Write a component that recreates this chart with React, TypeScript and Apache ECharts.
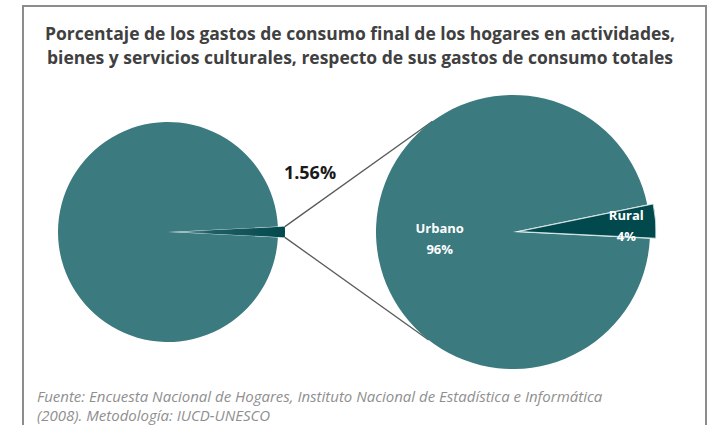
import React, { useEffect, useRef } from "react";
import * as echarts from "echarts";

const titleLines = [
  "Porcentaje de los gastos de consumo final de los hogares en actividades,",
  "bienes y servicios culturales, respecto de sus gastos de consumo totales",
];
const sourceLines = [
  "Fuente: Encuesta Nacional de Hogares, Instituto Nacional de Estadística e Informática",
  "(2008). Metodología: IUCD-UNESCO",
];
const leftNames = ["Cultural", "Otros"];
const leftValues = [1.56, 98.44];
const rightNames = ["Rural", "Urbano"];
const rightValues = [4, 96];

const TEAL = "#3b7b80";
const DARK = "#02494e";

export default function App() {
  const ref = useRef<HTMLDivElement>(null);
  useEffect(() => {
    if (!ref.current) return;
    const chart = echarts.init(ref.current, undefined, { renderer: "svg" });
    const L = { x: 168, y: 232, r: 110, off: 7 };
    const R = { x: 513, y: 232, r: 137 };
    const leftHalf = (leftValues[0] / (leftValues[0] + leftValues[1])) * 180;
    const rightStart = 11.6;
    const rad = (d: number) => (d * Math.PI) / 180;
    const lc1 = [L.x + L.off + L.r * Math.cos(rad(leftHalf)), L.y - L.r * Math.sin(rad(leftHalf))];
    const lc2 = [L.x + L.off + L.r * Math.cos(rad(leftHalf)), L.y + L.r * Math.sin(rad(leftHalf))];
    const rc1 = [R.x + R.r * Math.cos(rad(126)), R.y - R.r * Math.sin(rad(126))];
    const rc2 = [R.x + R.r * Math.cos(rad(232)), R.y - R.r * Math.sin(rad(232))];

    chart.setOption({
      animation: false,
      backgroundColor: "#ffffff",
      graphic: [
        {
          type: "rect",
          shape: { x: 23, y: 6, width: 683, height: 440 },
          style: { fill: "none", stroke: "#8c8c8c", lineWidth: 2 },
          z: 0,
        },
        {
          type: "line",
          shape: { x1: lc1[0], y1: lc1[1], x2: rc1[0], y2: rc1[1] },
          style: { stroke: "#5a5a5a", lineWidth: 1.3 },
          z: 1,
        },
        {
          type: "line",
          shape: { x1: lc2[0], y1: lc2[1], x2: rc2[0], y2: rc2[1] },
          style: { stroke: "#5a5a5a", lineWidth: 1.3 },
          z: 1,
        },
        {
          type: "text",
          x: 360,
          y: 21,
          style: {
            text: titleLines.join("\n"),
            fill: "#404040",
            font: "bold 17.5px 'Open Sans'",
            lineHeight: 24,
            align: "center",
            verticalAlign: "top",
          },
        },
        {
          type: "text",
          x: 37,
          y: 387,
          style: {
            text: sourceLines.join("\n"),
            fill: "#8f8f8f",
            font: "italic 15px 'Open Sans'",
            lineHeight: 18.5,
            align: "left",
            verticalAlign: "top",
          },
        },
      ],
      series: [
        {
          type: "pie",
          center: [L.x, L.y],
          radius: L.r,
          startAngle: leftHalf,
          clockwise: true,
          selectedMode: "single",
          selectedOffset: L.off,
          silent: true,
          labelLine: { show: false },
          data: leftNames.map((n, i) => ({
            name: n,
            value: leftValues[i],
            selected: i === 0,
            itemStyle:
              i === 0
                ? {
                    color: new echarts.graphic.LinearGradient(0, 0, 1, 0, [
                      { offset: 0, color: "rgba(59,123,128,0.6)" },
                      { offset: 0.3, color: "#1f5f64" },
                      { offset: 1, color: DARK },
                    ]),
                  }
                : { color: TEAL },
            label:
              i === 0
                ? {
                    show: true,
                    position: "inside",
                    formatter: "{c}%",
                    color: "#1a1a1a",
                    fontFamily: "'Open Sans'",
                    fontWeight: "bold",
                    fontSize: 18,
                  }
                : { show: false },
          })),
          labelLayout: (p: any) => (p.dataIndex === 0 ? { dx: 77, dy: -60 } : {}),
        },
        {
          type: "pie",
          center: [R.x, R.y],
          radius: R.r,
          startAngle: rightStart,
          clockwise: true,
          selectedMode: "single",
          selectedOffset: 6,
          silent: true,
          labelLine: { show: false },
          label: {
            show: true,
            position: "inside",
            formatter: "{b}\n{c}%",
            color: "#ffffff",
            fontFamily: "'Open Sans'",
            fontWeight: "bold",
            fontSize: 13,
            lineHeight: 21,
          },
          data: rightNames.map((n, i) => ({
            name: n,
            value: rightValues[i],
            selected: i === 0,
            itemStyle:
              i === 0
                ? { color: DARK, borderColor: "rgba(220,235,235,0.8)", borderWidth: 1 }
                : { color: TEAL },
          })),
          labelLayout: (p: any) => (p.dataIndex === 0 ? { dx: 36, dy: -1 } : { dx: -2, dy: 1 }),
        },
      ],
    });
    return () => chart.dispose();
  }, []);
  return (
    <div
      ref={ref}
      style={{ position: "absolute", left: 0, top: 0, width: 715, height: 425 }}
    />
  );
}
